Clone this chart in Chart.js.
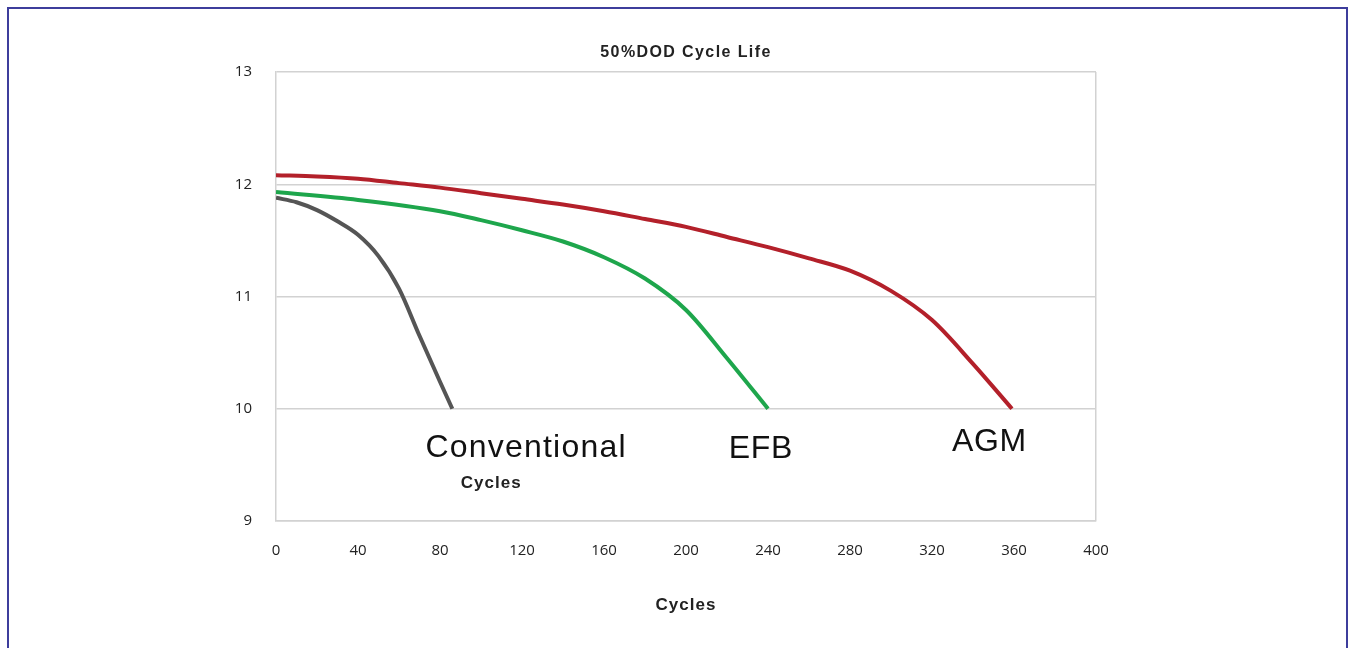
<!DOCTYPE html>
<html>
<head>
<meta charset="utf-8">
<script src="https://cdn.jsdelivr.net/npm/chart.js@4.4.1/dist/chart.umd.min.js"></script>
<style>
  html, body { margin: 0; padding: 0; background: #fff; overflow: hidden; }
  #wrap { position: relative; width: 1351px; height: 648px; }
  #frame { position: absolute; left: 7px; top: 7px; width: 1341px; height: 700px;
           border: 2px solid #3d3d9c; box-sizing: border-box; pointer-events: none; }
  canvas { position: absolute; left: 0; top: 0; }
</style>
</head>
<body>
<div id="wrap">
  <canvas id="Chart1" width="1351" height="648"></canvas>
  <div id="frame"></div>
</div>
<script>
// values
let convCycles = [0, 10, 20, 30, 40, 50, 60, 70, 80, 86]
let convVolts  = [11.88, 11.84, 11.77, 11.67, 11.55, 11.36, 11.07, 10.65, 10.24, 10.0]

let efbCycles = [0, 40, 80, 100, 120, 140, 160, 180, 200, 220, 240]
let efbVolts  = [11.93, 11.86, 11.76, 11.68, 11.59, 11.49, 11.35, 11.16, 10.88, 10.45, 10.0]

let agmCycles = [0, 20, 40, 60, 80, 100, 120, 140, 160, 180, 200, 220, 240, 260, 280, 300, 320, 340, 359]
let agmVolts  = [12.08, 12.07, 12.05, 12.01, 11.97, 11.92, 11.87, 11.82, 11.76, 11.69, 11.62, 11.53, 11.44, 11.34, 11.23, 11.05, 10.79, 10.4, 10.0]

let seriesNames = ["Conventional", "EFB", "AGM"]
let xTicks = [0, 40, 80, 120, 160, 200, 240, 280, 320, 360, 400]
let yTicks = [9, 10, 11, 12, 13]

function toPoints(xs, ys){
    return xs.map((x, i) => ({x: x, y: ys[i]}))
}

const gridColor = "#d2d2d2"
const boldFont = "'Liberation Sans', Arial, sans-serif"

// texts drawn by hand so the letter spacing can match
const extraTexts = {
    id: "extraTexts",
    afterDraw(chart){
        const ctx = chart.ctx
        const xs = chart.scales.x, ys = chart.scales.y
        const area = chart.chartArea
        const mid = (area.left + area.right) / 2
        ctx.save()
        ctx.textAlign = "center"
        ctx.textBaseline = "middle"

        ctx.fillStyle = "#222"
        ctx.font = "bold 16px " + boldFont
        ctx.letterSpacing = "1.4px"
        ctx.fillText("50%DOD Cycle Life", mid, 53)

        ctx.font = "bold 17px " + boldFont
        ctx.letterSpacing = "1px"
        ctx.fillText("Cycles", mid, 605)
        ctx.fillText("Cycles", xs.getPixelForValue(105), ys.getPixelForValue(9.34))

        ctx.fillStyle = "#111"
        ctx.font = "32px " + boldFont
        ctx.letterSpacing = "1.2px"
        ctx.fillText(seriesNames[0], xs.getPixelForValue(122), ys.getPixelForValue(9.65))
        ctx.letterSpacing = "0.6px"
        ctx.fillText(seriesNames[1], xs.getPixelForValue(236.5), ys.getPixelForValue(9.64))
        ctx.fillText(seriesNames[2], xs.getPixelForValue(348), ys.getPixelForValue(9.7))
        ctx.restore()
    }
}

new Chart(document.getElementById("Chart1"), {
    type: "scatter",
    data: {
        datasets: [
            { label: seriesNames[0], data: toPoints(convCycles, convVolts), borderColor: "#555555" },
            { label: seriesNames[1], data: toPoints(efbCycles, efbVolts), borderColor: "#1ea64c" },
            { label: seriesNames[2], data: toPoints(agmCycles, agmVolts), borderColor: "#b3202a" }
        ]
    },
    options: {
        responsive: false,
        animation: false,
        showLine: true,
        layout: { padding: { left: 0, right: 255, top: 72, bottom: 0 } },
        elements: {
            point: { radius: 0, hoverRadius: 0 },
            line: { borderWidth: 4, cubicInterpolationMode: "monotone", fill: false }
        },
        plugins: {
            legend: { display: false },
            tooltip: { enabled: false },
            title: { display: false }
        },
        scales: {
            x: {
                type: "linear",
                min: 0, max: 400,
                afterBuildTicks: (scale) => { scale.ticks = xTicks.map(v => ({value: v})) },
                afterFit: (scale) => { scale.height = 127 },
                grid: {
                    drawTicks: false,
                    lineWidth: 1.5,
                    color: (c) => (c.tick && c.tick.value === 400) ? gridColor : "rgba(0,0,0,0)"
                },
                border: { display: true, color: gridColor, width: 1.5 },
                ticks: {
                    padding: 21,
                    color: "#222",
                    font: { family: "'Open Sans', sans-serif", size: 15 }
                }
            },
            y: {
                min: 9, max: 13,
                afterBuildTicks: (scale) => { scale.ticks = yTicks.map(v => ({value: v})) },
                afterFit: (scale) => { scale.width = 276 },
                grid: { drawTicks: false, color: gridColor, lineWidth: 1.5 },
                border: { display: true, color: gridColor, width: 1.5 },
                ticks: {
                    padding: 24,
                    color: "#222",
                    font: { family: "'Open Sans', sans-serif", size: 15 }
                }
            }
        }
    },
    plugins: [ extraTexts ]
})
</script>
</body>
</html>
